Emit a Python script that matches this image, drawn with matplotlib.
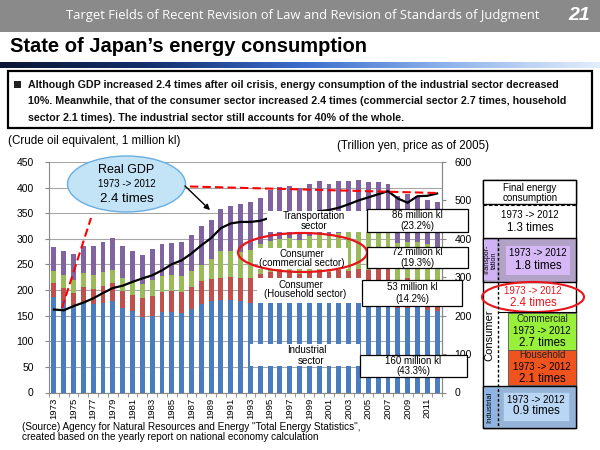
import numpy as np
import matplotlib
matplotlib.use('Agg')
import matplotlib.pyplot as plt
from matplotlib.patches import Rectangle, Ellipse
from matplotlib.colors import LinearSegmentedColormap

plt.rcParams['font.family'] = ['Liberation Sans', 'DejaVu Sans']

# data (crude oil equivalent, million kl)
years = list(range(1973, 2013))
industrial = [187, 178, 167, 174, 172, 175, 178, 165, 159, 148,
              149, 157, 157, 155, 163, 173, 178, 180, 180, 178,
              174, 182, 184, 186, 186, 179, 182, 184, 179, 182,
              181, 184, 181, 184, 184, 164, 164, 171, 162, 160]
household = [26, 26, 27, 32, 30, 33, 35, 33, 32, 37,
             39, 39, 41, 41, 43, 44, 44, 44, 45, 46,
             49, 49, 51, 52, 52, 52, 55, 56, 56, 57,
             57, 57, 58, 57, 58, 49, 60, 42, 51, 53]
commercial = [25, 25, 25, 28, 28, 28, 27, 25, 26, 27,
              31, 31, 31, 31, 31, 31, 38, 52, 51, 51,
              55, 58, 60, 62, 64, 66, 68, 70, 71, 72,
              75, 74, 75, 77, 75, 79, 70, 80, 76, 72]
transport = [46, 48, 52, 52, 56, 58, 61, 63, 60, 57,
             62, 62, 63, 66, 71, 77, 77, 83, 88, 93,
             93, 91, 100, 101, 101, 103, 103, 102, 101, 101,
             100, 99, 96, 93, 91, 91, 94, 90, 86, 86]
# real GDP, trillion yen (2005 prices)
gdp = [216, 214, 225, 234, 245, 259, 272, 278, 288, 297,
       305, 318, 334, 344, 362, 383, 402, 428, 440, 444,
       444, 447, 455, 465, 468, 461, 461, 472, 475, 481,
       490, 500, 508, 516, 524, 505, 494, 511, 512, 518]

year_labels = list(range(1973, 2012, 2))

fig = plt.figure(figsize=(6, 4.5), dpi=100)
fig.patch.set_facecolor('white')

# main chart
ax = fig.add_axes([49/600, 1 - 392.5/450, (442 - 49)/600, (392.5 - 162)/450])
ind = np.array(industrial)
hh = np.array(household)
com = np.array(commercial)
tr = np.array(transport)
w = 0.5
ax.bar(years, ind, width=w, color='#4a7dbf', zorder=2)
ax.bar(years, hh, width=w, bottom=ind, color='#c0504d', zorder=2)
ax.bar(years, com, width=w, bottom=ind + hh, color='#9bbb59', zorder=2)
ax.bar(years, tr, width=w, bottom=ind + hh + com, color='#8064a2', zorder=2)
ax.set_xlim(1972.5, 2012.5)
ax.set_ylim(0, 450)
ax.set_yticks(range(0, 451, 50))
ax.set_xticks(year_labels)
ax.set_xticklabels([str(y) for y in year_labels], rotation=90, fontsize=6.8)
ax.set_xticks(np.arange(1972.5, 2013, 1), minor=True)
ax.tick_params(axis='x', which='major', length=0, pad=4)
ax.tick_params(axis='x', which='minor', length=3, color='#888888')
ax.tick_params(axis='y', length=3, color='#888888', labelsize=7.5, pad=8)
ax.yaxis.grid(True, color='#a6a6a6', lw=0.8)
ax.set_axisbelow(True)
ax.spines['top'].set_visible(False)
for s in ['left', 'bottom', 'right']:
    ax.spines[s].set_color('#888888')

ax2 = ax.twinx()
ax2.plot(years, gdp, color='black', lw=1.6, zorder=3)
ax2.set_ylim(0, 600)
ax2.set_yticks(range(0, 601, 100))
ax2.tick_params(axis='y', length=3, color='#888888', labelsize=7.5, pad=6)
ax2.spines['top'].set_visible(False)
ax2.spines['right'].set_color('#888888')
ax2.spines['left'].set_visible(False)
ax2.spines['bottom'].set_visible(False)

# overlay in pixel coordinates
ov = fig.add_axes([0, 0, 1, 1], zorder=10)
ov.set_xlim(0, 600)
ov.set_ylim(450, 0)
ov.axis('off')
ov.patch.set_alpha(0)


def rect(x0, y0, x1, y1, fc='white', ec='none', lw=1.0, ls='-'):
    ov.add_patch(Rectangle((x0, y0), x1 - x0, y1 - y0, facecolor=fc,
                           edgecolor=ec, lw=lw, ls=ls))


def txt(x, y, s, size=7, **kw):
    kw.setdefault('ha', 'center')
    kw.setdefault('va', 'center')
    ov.text(x, y, s, fontsize=size, **kw)


# header
rect(0, 0, 600, 32, fc='#8a8a8a')
txt(540, 16, 'Target Fields of Recent Revision of Law and Revision of Standards of Judgment',
    size=9.4, ha='right', color='white', family=['Open Sans', 'DejaVu Sans'])
txt(590, 16, '21', size=14, ha='right', color='white', weight='bold', style='italic')

txt(10, 47, 'State of Japan\u2019s energy consumption', size=14.5, ha='left', weight='bold')

grad = LinearSegmentedColormap.from_list('g', ['#0a1633', '#15306e', '#3a6ccc',
                                               '#8fb4ec', '#e2edfb'])
ov.imshow(np.linspace(0, 1, 300).reshape(1, -1), cmap=grad, aspect='auto',
          extent=[0, 600, 68, 62], zorder=1)
ov.set_xlim(0, 600)
ov.set_ylim(450, 0)

rect(8, 71, 592, 128, fc='white', ec='black', lw=1.6)
rect(14, 81, 21, 88, fc='#222222')
box_lines = ['Although GDP increased 2.4 times after oil crisis, energy consumption of the industrial sector decreased',
             '10%. Meanwhile, that of the consumer sector increased 2.4 times (commercial sector 2.7 times, household',
             'sector 2.1 times). The industrial sector still accounts for 40% of the whole.']
for i, line in enumerate(box_lines):
    txt(28, 85 + i * 16.5, line, size=7.7, ha='left', weight='bold', color='#111111')

txt(8, 141, '(Crude oil equivalent, 1 million kl)', size=8.4, ha='left')
txt(337, 146, '(Trillion yen, price as of 2005)', size=8.3, ha='left')

# red dashed guides
ov.plot([190, 437], [186.5, 193], color='red', lw=1.5, ls=(0, (4, 2)))
ov.plot([62, 91], [308, 218], color='red', lw=1.5, ls=(0, (4, 2)))

# GDP callout
ov.add_patch(Ellipse((126.5, 184), 118, 56, facecolor='#c3e3f7', edgecolor='#6aaee0', lw=1))
txt(126.5, 170, 'Real GDP', size=9)
txt(126.5, 184, '1973 -> 2012', size=7)
txt(126.5, 199, '2.4 times', size=9.5)
ov.annotate('', xy=(212, 212), xytext=(183, 184),
            arrowprops=dict(arrowstyle='-|>', color='black', lw=1, mutation_scale=8))

# sector labels
rect(267, 211, 367, 232)
txt(314, 216, 'Transportation', size=7)
txt(314, 226, 'sector', size=7)
rect(258, 248, 348, 269)
txt(302, 254, 'Consumer', size=7)
txt(302, 263.5, '(commercial sector)', size=7)
ov.add_patch(Ellipse((302.5, 252.5), 129, 39, facecolor='none', edgecolor='#e8141c', lw=1.6))
rect(257, 278, 362, 303)
txt(301, 284.5, 'Consumer', size=7)
txt(305, 294, '(Household sector)', size=7)
rect(250, 344, 360, 366)
txt(307, 350, 'Industrial', size=7)
txt(311, 360.5, 'sector', size=7)

# value boxes
for (x0, y0, x1, y1, a, b) in [(367, 209, 468, 232, '86 million kl', '(23.2%)'),
                               (367, 247, 468, 268, '72 million kl', '(19.3%)'),
                               (362, 280, 462, 306, '53 million kl', '(14.2%)'),
                               (360, 355, 467, 377, '160 million kl', '(43.3%)')]:
    rect(x0, y0, x1, y1, fc='white', ec='black', lw=0.9)
    cx = (x0 + x1) / 2
    cy = (y0 + y1) / 2
    txt(cx, cy - 5.5, a, size=7)
    txt(cx, cy + 5.5, b, size=7)

# right panel
rect(483, 180, 576, 428, fc='white', ec='black', lw=1)
rect(483, 180, 576, 204, fc='white', ec='black', lw=1)
txt(530, 188, 'Final energy', size=7)
txt(530, 198, 'consumption', size=7)
ov.plot([483, 576], [205, 205], color='black', lw=0.8, ls=(0, (3, 2)))
txt(530, 215, '1973 -> 2012', size=7)
txt(530, 228, '1.3 times', size=8.3)

rect(483, 238, 576, 282, fc='#b3a2c7', ec='black', lw=1)
rect(484, 240, 497, 280, fc='#d0b3f5')
txt(490.5, 260, 'Transpor-\ntation', size=5, rotation=90, linespacing=1.0)
rect(506, 246, 570, 275, fc='#d6b8f7')
txt(538, 253, '1973 -> 2012', size=7)
txt(538, 266, '1.8 times', size=8.3)

txt(489, 335, 'Consumer', size=8, rotation=90)
ov.add_patch(Ellipse((533, 297), 102, 30, facecolor='none', edgecolor='#e8141c', lw=1.5))
txt(533, 291.5, '1973 -> 2012', size=7, color='#e8141c')
txt(533, 303, '2.4 times', size=8.3, color='#e8141c')
ov.plot([498, 576], [312, 312], color='black', lw=0.8)
rect(508, 313, 576, 350, fc='#99f03a', ec='#555555', lw=0.6)
txt(542, 318.5, 'Commercial', size=7, color='#222222')
txt(542, 331, '1973 -> 2012', size=7)
txt(542, 342.5, '2.7 times', size=8.3)
rect(508, 350, 576, 385, fc='#f0541e', ec='#555555', lw=0.6)
txt(542, 355.5, 'Household', size=7, color='#222222')
txt(542, 367, '1973 -> 2012', size=7)
txt(542, 378.5, '2.1 times', size=8.3)

rect(483, 386, 576, 428, fc='#95b3d7', ec='black', lw=1)
rect(484, 388, 496, 426, fc='#8db4e2')
txt(490, 407, 'Industrial', size=5.5, rotation=90)
rect(503, 392, 569, 421, fc='#b9d7f5', ec='#9ab8d8', lw=0.6)
txt(536, 400, '1973 -> 2012', size=7)
txt(536, 411.5, '0.9 times', size=8.3)
ov.plot([498, 498], [238, 428], color='black', lw=1, ls=(0, (2, 1.5)))

# source
txt(22, 427.5, '(Source) Agency for Natural Resources and Energy "Total Energy Statistics",',
    size=7.2, ha='left')
txt(22, 437, 'created based on the yearly report on national economy calculation',
    size=7.2, ha='left')

fig.savefig('out.png', dpi=100)
